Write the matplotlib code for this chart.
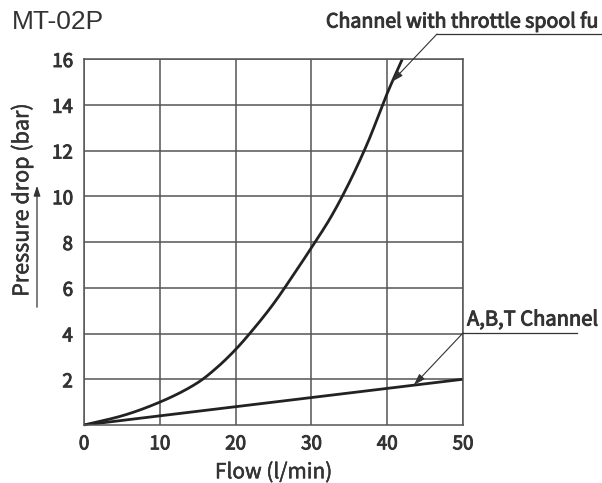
import matplotlib
matplotlib.use("Agg")
import matplotlib.pyplot as plt
from matplotlib.lines import Line2D
from matplotlib.patches import FancyArrowPatch
import matplotlib.patheffects as pe
import numpy as np

# Pressure drop vs flow for MT-02P
flow_throttle = [0, 5, 10, 15, 17.5, 20, 22.5, 25, 27.5, 30, 32.5, 35, 37.5, 40, 42]
dp_throttle = [0, 0.4, 1.0, 1.85, 2.5, 3.3, 4.25, 5.3, 6.5, 7.75, 9.05, 10.6, 12.4, 14.5, 16.0]

flow_abt = [0, 10, 20, 30, 40, 50]
dp_abt = [0, 0.4, 0.8, 1.2, 1.6, 2.0]

x_ticks = [0, 10, 20, 30, 40, 50]
y_ticks = [2, 4, 6, 8, 10, 12, 14, 16]

title = "MT-02P"
x_label = "Flow (l/min)"
y_label = "Pressure drop (bar)"
label_throttle = "Channel with throttle spool fu"
label_abt = "A,B,T Channel"


def pchip(x, y, n=300):
    """Monotone cubic (Fritsch-Carlson) interpolation using numpy only."""
    x = np.asarray(x, float)
    y = np.asarray(y, float)
    h = np.diff(x)
    d = np.diff(y) / h
    m = np.zeros_like(x)
    for k in range(1, len(x) - 1):
        if d[k - 1] * d[k] > 0:
            w1 = 2 * h[k] + h[k - 1]
            w2 = h[k] + 2 * h[k - 1]
            m[k] = (w1 + w2) / (w1 / d[k - 1] + w2 / d[k])
    m[0] = d[0]
    m[-1] = d[-1]
    xs = np.linspace(x[0], x[-1], n)
    idx = np.clip(np.searchsorted(x, xs) - 1, 0, len(h) - 1)
    t = (xs - x[idx]) / h[idx]
    h00 = 2 * t**3 - 3 * t**2 + 1
    h10 = t**3 - 2 * t**2 + t
    h01 = -2 * t**3 + 3 * t**2
    h11 = t**3 - t**2
    ys = (h00 * y[idx] + h10 * h[idx] * m[idx]
          + h01 * y[idx + 1] + h11 * h[idx] * m[idx + 1])
    return xs, ys


W, H = 602, 483
plt.rcParams['font.family'] = ['Noto Sans CJK SC', 'DejaVu Sans']
fig = plt.figure(figsize=(W / 100, H / 100), dpi=100)
fig.patch.set_facecolor("white")

ax = fig.add_axes([84 / W, (H - 425) / H, (463 - 84) / W, (425 - 59) / H])
grid_c = "#555555"
ink = "#222222"
txt = "#333333"

# a thin outline gives the regular face a medium weight
medium = [pe.withStroke(linewidth=0.7, foreground=txt)]
light = [pe.withStroke(linewidth=0.35, foreground=txt)]

ax.set_xlim(0, 50)
ax.set_ylim(0, 16)
ax.set_xticks(x_ticks)
ax.set_yticks(y_ticks)
ax.grid(True, color=grid_c, linewidth=1.1)
ax.set_axisbelow(True)
for s in ax.spines.values():
    s.set_color(grid_c)
    s.set_linewidth(1.1)
ax.tick_params(length=0, labelsize=13.5, labelcolor=txt)
ax.tick_params(axis="x", pad=6)
ax.tick_params(axis="y", pad=8)
for lab in ax.get_xticklabels() + ax.get_yticklabels():
    lab.set_path_effects(medium)

xs, ys = pchip(flow_throttle, dp_throttle)
ax.plot(xs, ys, color=ink, linewidth=2.0, solid_capstyle="butt", clip_on=False)
ax.plot(flow_abt, dp_abt, color=ink, linewidth=2.0, solid_capstyle="butt")

xl = ax.set_xlabel(x_label, fontsize=15, color=txt, labelpad=5)
xl.set_path_effects(light)

# title
fig.text(12 / W, 1 - 22 / H, title, fontsize=19, color=txt,
         fontfamily="Liberation Sans", va="center", ha="left")

# y label with upward arrow
yl = fig.text(22 / W, 1 - 200 / H, y_label, rotation=90, fontsize=15.5,
              color=txt, va="center", ha="center")
yl.set_path_effects(light)
fig.patches.append(FancyArrowPatch(
    (37 / W, 1 - 310 / H), (37 / W, 1 - 183 / H), transform=fig.transFigure,
    arrowstyle="-|>,head_length=6,head_width=2", color=txt,
    linewidth=0.9, mutation_scale=1))

# callouts
arrow_kw = dict(arrowstyle="-|>,head_length=7,head_width=2.2", color=txt,
                linewidth=0.8, mutation_scale=1, shrinkA=0, shrinkB=0)

t1 = fig.text(326 / W, 1 - 22 / H, label_throttle, fontsize=14.1,
              color=txt, va="center", ha="left")
t1.set_path_effects(medium)
fig.lines.append(Line2D([437 / W, 1.0], [1 - 34 / H, 1 - 34 / H],
                        transform=fig.transFigure, color=txt, linewidth=0.9))
ax.annotate("", xy=(40.6, 15.0), xycoords="data",
            xytext=(437, H - 34), textcoords="figure pixels",
            arrowprops=arrow_kw, annotation_clip=False)

t2 = fig.text(467 / W, 1 - 320 / H, label_abt, fontsize=14.5,
              color=txt, va="center", ha="left")
t2.set_path_effects(medium)
fig.lines.append(Line2D([463 / W, 577 / W], [1 - 333 / H, 1 - 333 / H],
                        transform=fig.transFigure, color=txt, linewidth=0.9))
ax.annotate("", xy=(43.5, 1.74), xycoords="data",
            xytext=(463, H - 333), textcoords="figure pixels",
            arrowprops=arrow_kw, annotation_clip=False)

fig.savefig("out.png", dpi=100, facecolor="white")
